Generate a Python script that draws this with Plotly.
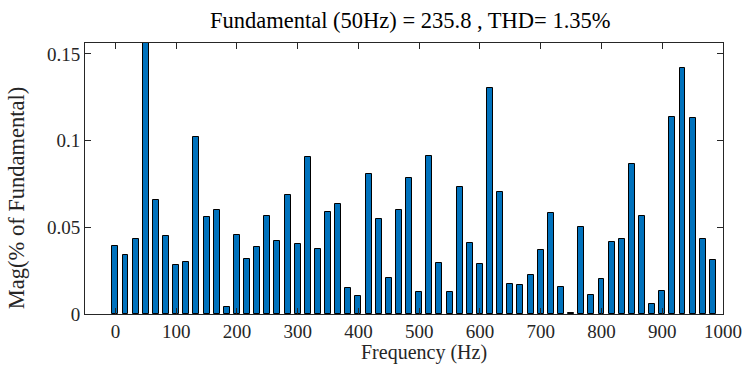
import plotly.graph_objects as go

# Spectrum bins (Hz), 50/3 Hz resolution
freq_hz = [
    0.0, 16.67, 33.33, 50.0, 66.67, 83.33, 100.0, 116.67, 133.33, 150.0,
    166.67, 183.33, 200.0, 216.67, 233.33, 250.0, 266.67, 283.33, 300.0, 316.67,
    333.33, 350.0, 366.67, 383.33, 400.0, 416.67, 433.33, 450.0, 466.67, 483.33,
    500.0, 516.67, 533.33, 550.0, 566.67, 583.33, 600.0, 616.67, 633.33, 650.0,
    666.67, 683.33, 700.0, 716.67, 733.33, 750.0, 766.67, 783.33, 800.0, 816.67,
    833.33, 850.0, 866.67, 883.33, 900.0, 916.67, 933.33, 950.0, 966.67, 983.33,
]

# Magnitude as % of the fundamental (50 Hz bin = 100%, clipped by the axis)
mag_pct = [
    0.0392, 0.0342, 0.0435, 100.0, 0.0656, 0.0452, 0.0283, 0.0302, 0.1023, 0.0560,
    0.0602, 0.0040, 0.0454, 0.0319, 0.0388, 0.0563, 0.0423, 0.0685, 0.0406, 0.0906,
    0.0377, 0.0588, 0.0633, 0.0150, 0.0102, 0.0808, 0.0548, 0.0208, 0.0600, 0.0785,
    0.0129, 0.0910, 0.0294, 0.0127, 0.0733, 0.0412, 0.0290, 0.1304, 0.0704, 0.0171,
    0.0169, 0.0225, 0.0371, 0.0585, 0.0154, 0.0006, 0.0504, 0.0112, 0.0204, 0.0415,
    0.0433, 0.0863, 0.0567, 0.0058, 0.0133, 0.1135, 0.1419, 0.1129, 0.0431, 0.0313,
]

x_ticks = [0, 100, 200, 300, 400, 500, 600, 700, 800, 900, 1000]
y_ticks = [0, 0.05, 0.1, 0.15]
y_tick_text = ["0", "0.05", "0.1", "0.15"]

title_text = "Fundamental (50Hz) = 235.8 , THD= 1.35%"
x_label = "Frequency (Hz)"
y_label = "Mag(% of Fundamental)"

FONT = "Liberation Serif, Times New Roman, serif"
INK = "#262626"

W, H = 754, 365
M = dict(l=85, r=29, t=43, b=51)

fig = go.Figure(
    go.Bar(
        x=freq_hz,
        y=mag_pct,
        width=9.8,
        marker=dict(color="#0072BD", line=dict(color="#000000", width=1)),
    )
)

axis_common = dict(
    showline=True,
    linecolor=INK,
    linewidth=1,
    mirror="allticks",
    ticks="inside",
    ticklen=6,
    tickcolor=INK,
    showgrid=False,
    zeroline=False,
    tickfont=dict(family=FONT, size=19, color=INK),
)

fig.update_layout(
    width=W,
    height=H,
    margin=M,
    paper_bgcolor="white",
    plot_bgcolor="white",
    showlegend=False,
    bargap=0,
    xaxis=dict(range=[-50, 1000], tickvals=x_ticks, ticklabelstandoff=0, **axis_common),
    yaxis=dict(range=[0, 0.1563], tickvals=y_ticks, ticktext=y_tick_text, **axis_common),
)

# Title and axis labels placed in pixel terms relative to the figure
def px_x(px):
    return (px - M["l"]) / (W - M["l"] - M["r"])

def px_y(py):
    return (H - M["b"] - py) / (H - M["t"] - M["b"])

fig.add_annotation(
    text=title_text, x=px_x(412), y=px_y(20), xref="paper", yref="paper",
    showarrow=False, xanchor="center", yanchor="middle",
    font=dict(family=FONT, size=22.5, color="#000000"),
)
fig.add_annotation(
    text=x_label, x=px_x(425), y=px_y(365), xref="paper", yref="paper",
    showarrow=False, xanchor="center", yanchor="bottom", borderpad=0,
    font=dict(family=FONT, size=20, color=INK),
)
fig.add_annotation(
    text=y_label, x=px_x(16), y=px_y(198), xref="paper", yref="paper",
    showarrow=False, xanchor="center", yanchor="middle", textangle=-90,
    font=dict(family=FONT, size=22.5, color=INK),
)

fig.write_html("out.html")
